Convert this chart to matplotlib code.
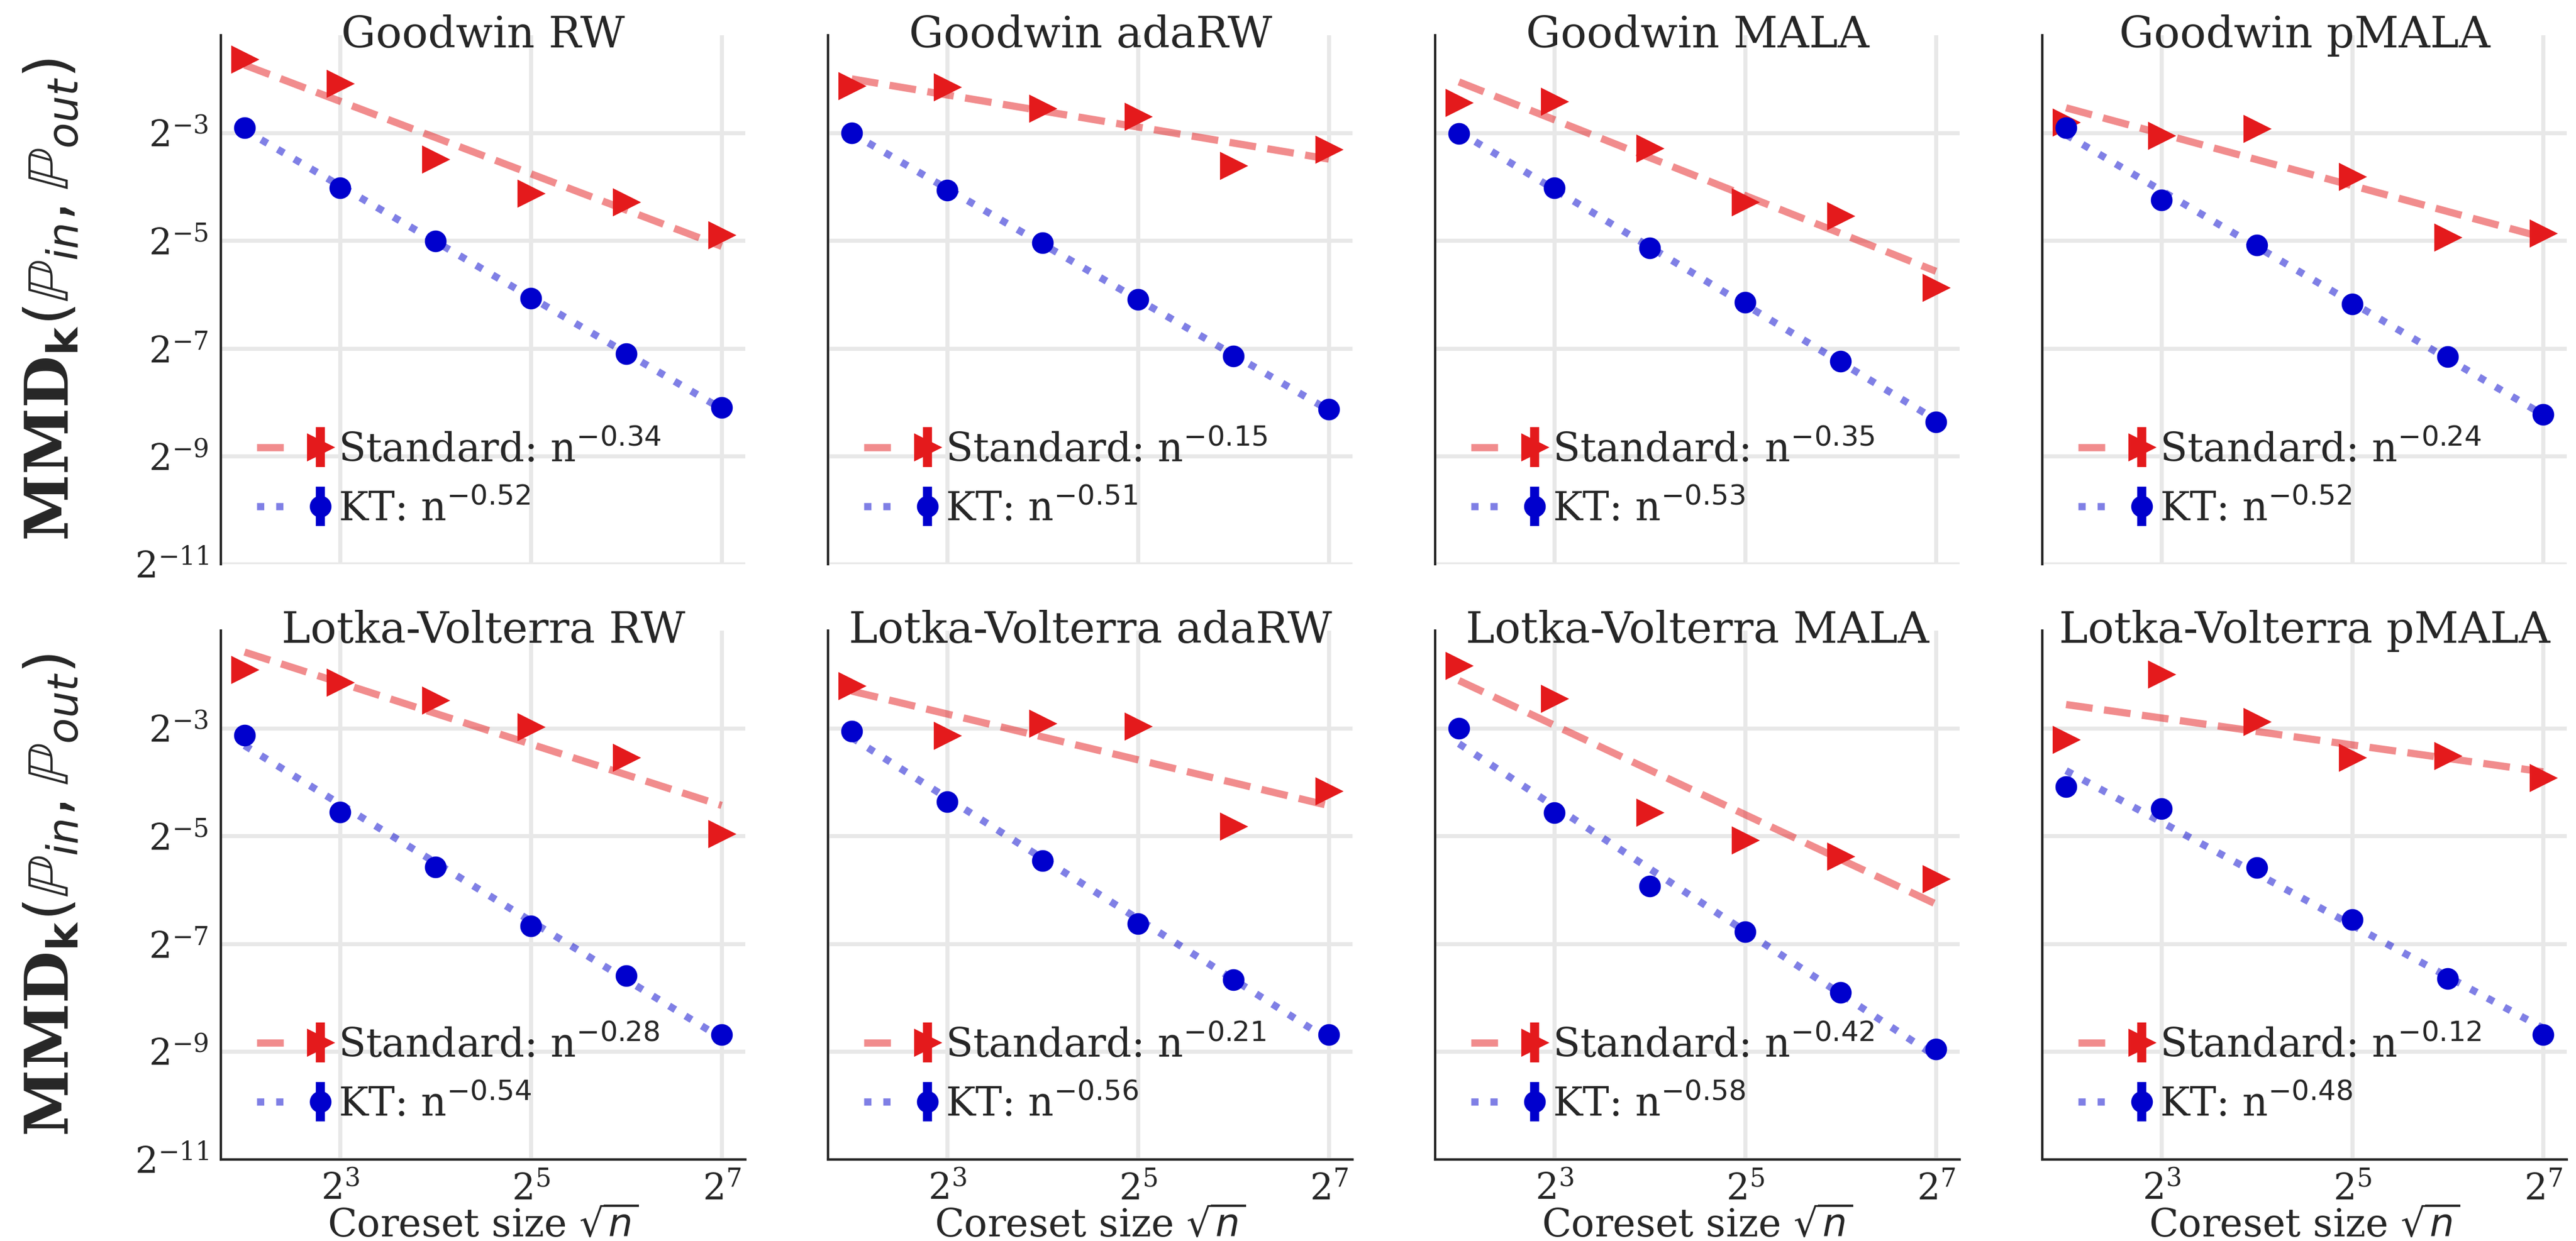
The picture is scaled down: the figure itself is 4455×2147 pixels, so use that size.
import matplotlib
matplotlib.use("Agg")
import matplotlib.pyplot as plt
import numpy as np
from matplotlib.legend_handler import HandlerTuple
from matplotlib.ticker import NullLocator

plt.rcParams['font.family'] = 'DejaVu Serif'
plt.rcParams['mathtext.fontset'] = 'dejavusans'
plt.rcParams['text.color'] = '#262626'
plt.rcParams['axes.labelcolor'] = '#262626'
plt.rcParams['xtick.color'] = '#262626'
plt.rcParams['ytick.color'] = '#262626'

# coreset size sqrt(n)
sizes = 2.0 ** np.arange(2, 8)

titles = ["Goodwin RW", "Goodwin adaRW", "Goodwin MALA", "Goodwin pMALA",
          "Lotka-Volterra RW", "Lotka-Volterra adaRW", "Lotka-Volterra MALA",
          "Lotka-Volterra pMALA"]

# log2 of MMD
std_log2 = [
    [-1.64, -2.09, -3.49, -4.13, -4.29, -4.90],
    [-2.13, -2.16, -2.55, -2.70, -3.61, -3.31],
    [-2.44, -2.42, -3.29, -4.29, -4.55, -5.88],
    [-2.81, -3.06, -2.93, -3.82, -4.94, -4.87],
    [-1.92, -2.16, -2.49, -2.98, -3.55, -4.97],
    [-2.22, -3.14, -2.92, -2.97, -4.83, -4.17],
    [-1.85, -2.46, -4.57, -5.08, -5.38, -5.80],
    [-3.22, -2.01, -2.89, -3.55, -3.52, -3.93],
]
kt_log2 = [
    [-2.91, -4.02, -5.01, -6.07, -7.10, -8.09],
    [-3.00, -4.06, -5.04, -6.09, -7.14, -8.13],
    [-3.01, -4.02, -5.14, -6.14, -7.24, -8.36],
    [-2.91, -4.25, -5.08, -6.18, -7.15, -8.22],
    [-3.13, -4.56, -5.58, -6.67, -7.59, -8.69],
    [-3.06, -4.36, -5.46, -6.63, -7.67, -8.69],
    [-3.00, -4.57, -5.93, -6.78, -7.90, -8.95],
    [-4.09, -4.49, -5.59, -6.55, -7.65, -8.69],
]
std_err = [0, 0, 0, 0, 0, 0]
kt_err = [0, 0, 0, 0, 0, 0]

std_rate = [0.34, 0.15, 0.35, 0.24, 0.28, 0.21, 0.42, 0.12]
kt_rate = [0.52, 0.51, 0.53, 0.52, 0.54, 0.56, 0.58, 0.48]

red = '#e41a1c'
blue = '#0000cd'

fig, axes = plt.subplots(2, 4, figsize=(14.85, 7.1567), dpi=300,
                         sharex=True, sharey=True)
fig.subplots_adjust(left=0.0857, right=0.9965, bottom=0.0657, top=0.9716,
                    wspace=0.157, hspace=0.1255)

for i, ax in enumerate(axes.flat):
    lx = np.log2(sizes)
    std = 2.0 ** np.array(std_log2[i])
    kt = 2.0 ** np.array(kt_log2[i])

    # power-law fits in log-log space
    p_std = np.polyfit(lx, np.log2(std), 1)
    p_kt = np.polyfit(lx, np.log2(kt), 1)

    l1, = ax.plot(sizes, 2.0 ** np.polyval(p_std, lx), ls='--', color=red,
                  alpha=0.5, lw=3, zorder=3)
    e1 = ax.errorbar(sizes, std, yerr=std_err, fmt='>', color=red, ms=10,
                     elinewidth=3.75, capsize=0, zorder=4)
    l2, = ax.plot(sizes, 2.0 ** np.polyval(p_kt, lx), ls=':', color=blue,
                  alpha=0.5, lw=3, zorder=3)
    e2 = ax.errorbar(sizes, kt, yerr=kt_err, fmt='o', color=blue, ms=8,
                     elinewidth=3.75, capsize=0, zorder=4)

    ax.set_xscale('log', base=2)
    ax.set_yscale('log', base=2)
    ax.set_xticks([2**3, 2**5, 2**7])
    ax.set_yticks([2.0**-11, 2.0**-9, 2.0**-7, 2.0**-5, 2.0**-3])
    ax.xaxis.set_minor_locator(NullLocator())
    ax.yaxis.set_minor_locator(NullLocator())
    ax.set_xlim(2**1.75, 2**7.25)
    ax.set_ylim(2.0**-11, 2.0**-1.19)

    ax.grid(True, color='#e8e8e8', lw=1.7, zorder=0)
    ax.set_axisbelow(True)
    ax.tick_params(length=0, labelsize=15, pad=5)
    for s in ['top', 'right']:
        ax.spines[s].set_visible(False)
    for s in ['left', 'bottom']:
        ax.spines[s].set_color('#262626')
        ax.spines[s].set_linewidth(1.0)
    if i < 4:
        ax.spines['bottom'].set_visible(False)
    else:
        ax.set_xlabel(r"Coreset size $\sqrt{n}$", fontsize=16, labelpad=0)

    ax.set_title(titles[i], fontsize=18, y=0.977, pad=0)

    ax.legend([(l1, e1), (l2, e2)],
              [f"Standard: n$^{{-{std_rate[i]:.2f}}}$",
               f"KT: n$^{{-{kt_rate[i]:.2f}}}$"],
              handler_map={tuple: HandlerTuple(ndivide=None)},
              loc='lower left', frameon=False, fontsize=16.5,
              handletextpad=0.05)

for ax in axes[:, 0]:
    ax.set_ylabel(r"MMD$_{\mathbf{k}}(\mathbb{P}_{in}, \mathbb{P}_{out})$",
                  fontsize=25, fontweight='bold', labelpad=22)

fig.savefig("out.png", dpi=300)
